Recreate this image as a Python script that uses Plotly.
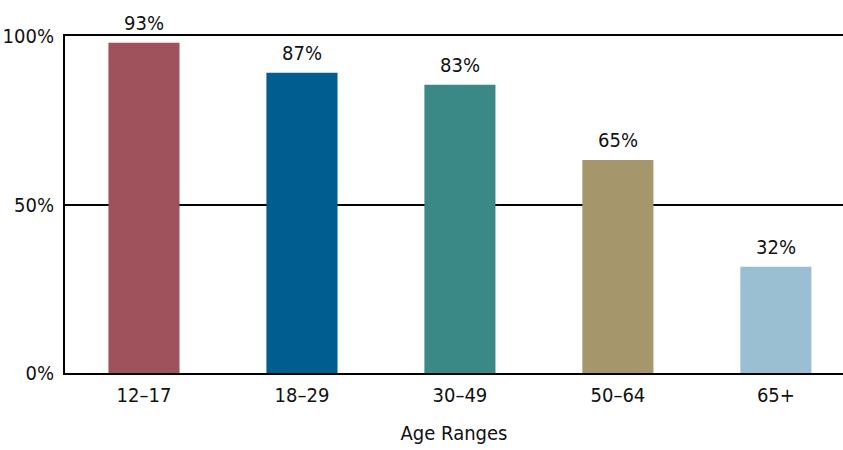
import plotly.graph_objects as go

categories = ["12–17", "18–29", "30–49", "50–64", "65+"]
bar_heights = [98.0, 89.1, 85.5, 63.2, 31.5]
bar_labels = ["93%", "87%", "83%", "65%", "32%"]
bar_colors = ["#A0525C", "#005D8F", "#3A8987", "#A6966B", "#9ABFD3"]
y_tickvals = [0, 50, 100]
y_ticktext = ["0%", "50%", "100%"]

FONT = "DejaVu Sans Condensed, Liberation Sans Narrow, sans-serif"
FS = 20

fig = go.Figure()
fig.add_trace(go.Bar(
    x=categories, y=bar_heights, marker=dict(color=bar_colors, line=dict(width=0)),
    width=0.45, hoverinfo="skip",
))

for c, h, t in zip(categories, bar_heights, bar_labels):
    fig.add_annotation(x=c, y=h, text=t, showarrow=False, yanchor="bottom",
                       yshift=6, font=dict(family=FONT, size=FS, color="#111"))

fig.update_layout(
    width=843, height=450,
    margin=dict(l=65, r=0, t=36, b=77),
    plot_bgcolor="white", paper_bgcolor="white",
    showlegend=False,
    font=dict(family=FONT, size=FS, color="#111"),
    xaxis=dict(
        type="category", range=[-0.5, 4.425],
        showline=True, linecolor="black", linewidth=2, mirror=True,
        showgrid=False, ticks="", ticklabelstandoff=3,
        title=dict(text="Age Ranges", standoff=20, font=dict(family=FONT, size=FS)),
        tickfont=dict(family=FONT, size=FS),
    ),
    yaxis=dict(
        range=[0, 100], tickvals=y_tickvals, ticktext=y_ticktext,
        showline=True, linecolor="black", linewidth=2,
        showgrid=True, gridcolor="black", gridwidth=2, zeroline=False,
        ticks="", ticklabelstandoff=5,
        tickfont=dict(family=FONT, size=FS),
    ),
)

fig.write_html("out.html")
